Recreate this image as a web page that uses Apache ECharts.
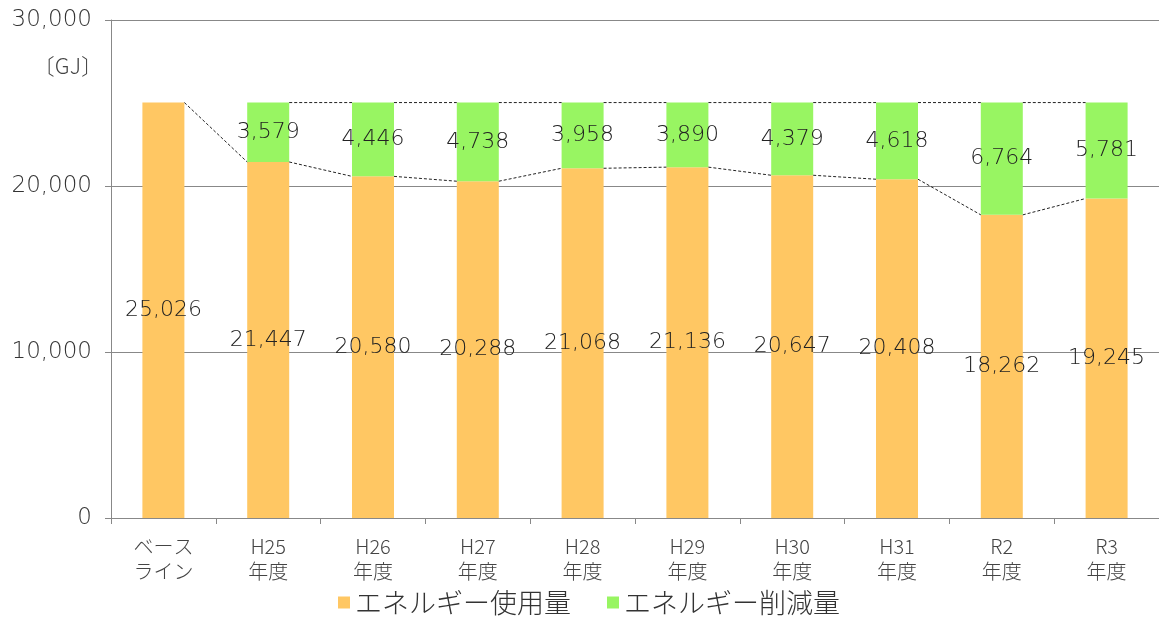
<!DOCTYPE html>
<html><head><meta charset="utf-8">
<script src="https://cdn.jsdelivr.net/npm/echarts@6/dist/echarts.min.js"></script>
<style>html,body{margin:0;padding:0;background:#fff;}#c{width:1159px;height:621px;}</style>
</head><body><div id="c"></div>
<script>
const categories = ['ベース\nライン','H25\n年度','H26\n年度','H27\n年度','H28\n年度','H29\n年度','H30\n年度','H31\n年度','R2\n年度','R3\n年度'];
const usage = [25026, 21447, 20580, 20288, 21068, 21136, 20647, 20408, 18262, 19245];
const reduction = [null, 3579, 4446, 4738, 3958, 3890, 4379, 4618, 6764, 5781];
const yTicks = [0, 10000, 20000, 30000];
const seriesNames = ['エネルギー使用量', 'エネルギー削減量'];

const BAR_W = 42;
const numFont = '"DejaVu Sans"';
const jpFont = '"Noto Sans CJK JP"';

const totals = usage.map((u, i) => u + (reduction[i] || 0));
const usageSegs = [];
for (let i = 0; i < usage.length - 1; i++) usageSegs.push([i, usage[i], usage[i + 1]]);
const topSegs = [];
for (let i = 1; i < totals.length - 1; i++) topSegs.push([i, totals[i], totals[i + 1]]);

function seriesLine(params, api) {
  const i = api.value(0);
  const p1 = api.coord([i, api.value(1)]);
  const p2 = api.coord([i + 1, api.value(2)]);
  return {
    type: 'line',
    shape: { x1: p1[0] + BAR_W / 2, y1: p1[1], x2: p2[0] - BAR_W / 2, y2: p2[1] },
    style: { stroke: '#222', lineWidth: 1, lineDash: [3, 2] }
  };
}

const chart = echarts.init(document.getElementById('c'));
chart.setOption({
  animation: false,
  title: { text: '〔GJ〕', right: 1159 - 108, top: 50, textStyle: { fontFamily: jpFont, fontSize: 22, fontWeight: 300, color: '#444' } },
  grid: { left: 111, top: 20, width: 1054, height: 498, containLabel: false },
  legend: {
    bottom: 0, left: 333, itemWidth: 12, itemHeight: 12, itemGap: 36,
    icon: 'rect',
    data: seriesNames,
    textStyle: { fontFamily: jpFont, fontSize: 27, fontWeight: 300, color: '#333', padding: [0, 0, 0, 0] }
  },
  xAxis: {
    type: 'category', data: categories,
    axisLine: { lineStyle: { color: '#888' } },
    axisTick: { show: true, length: 6, lineStyle: { color: '#888' } },
    axisLabel: { fontFamily: jpFont, fontSize: 20, fontWeight: 300, color: '#444', lineHeight: 25, margin: 16, interval: 0 }
  },
  yAxis: {
    type: 'value', min: yTicks[0], max: yTicks[yTicks.length - 1], interval: 10000,
    axisLine: { show: true, lineStyle: { color: '#888' } },
    axisTick: { show: true, length: 6, lineStyle: { color: '#888' } },
    splitLine: { lineStyle: { color: '#888' } },
    axisLabel: { fontFamily: numFont, fontSize: 23, fontWeight: 300, color: '#333', margin: 19,
      formatter: v => v.toLocaleString('en-US') }
  },
  series: [
    { name: seriesNames[0], type: 'bar', stack: 's', data: usage, barWidth: BAR_W,
      itemStyle: { color: '#FFC763' },
      label: { show: true, position: 'inside', fontFamily: numFont, fontSize: 22, fontWeight: 300, color: '#222',
        formatter: p => p.value.toLocaleString('en-US') } },
    { name: seriesNames[1], type: 'bar', stack: 's', data: reduction, barWidth: BAR_W,
      itemStyle: { color: '#98F562' },
      label: { show: true, position: 'inside', fontFamily: numFont, fontSize: 22, fontWeight: 300, color: '#222',
        formatter: p => p.value == null ? '' : p.value.toLocaleString('en-US') } },
    { type: 'custom', renderItem: seriesLine, data: usageSegs, encode: { x: 0, y: 1 }, silent: true, z: 5 },
    { type: 'custom', renderItem: seriesLine, data: topSegs, encode: { x: 0, y: 1 }, silent: true, z: 5 }
  ]
});
</script></body></html>
